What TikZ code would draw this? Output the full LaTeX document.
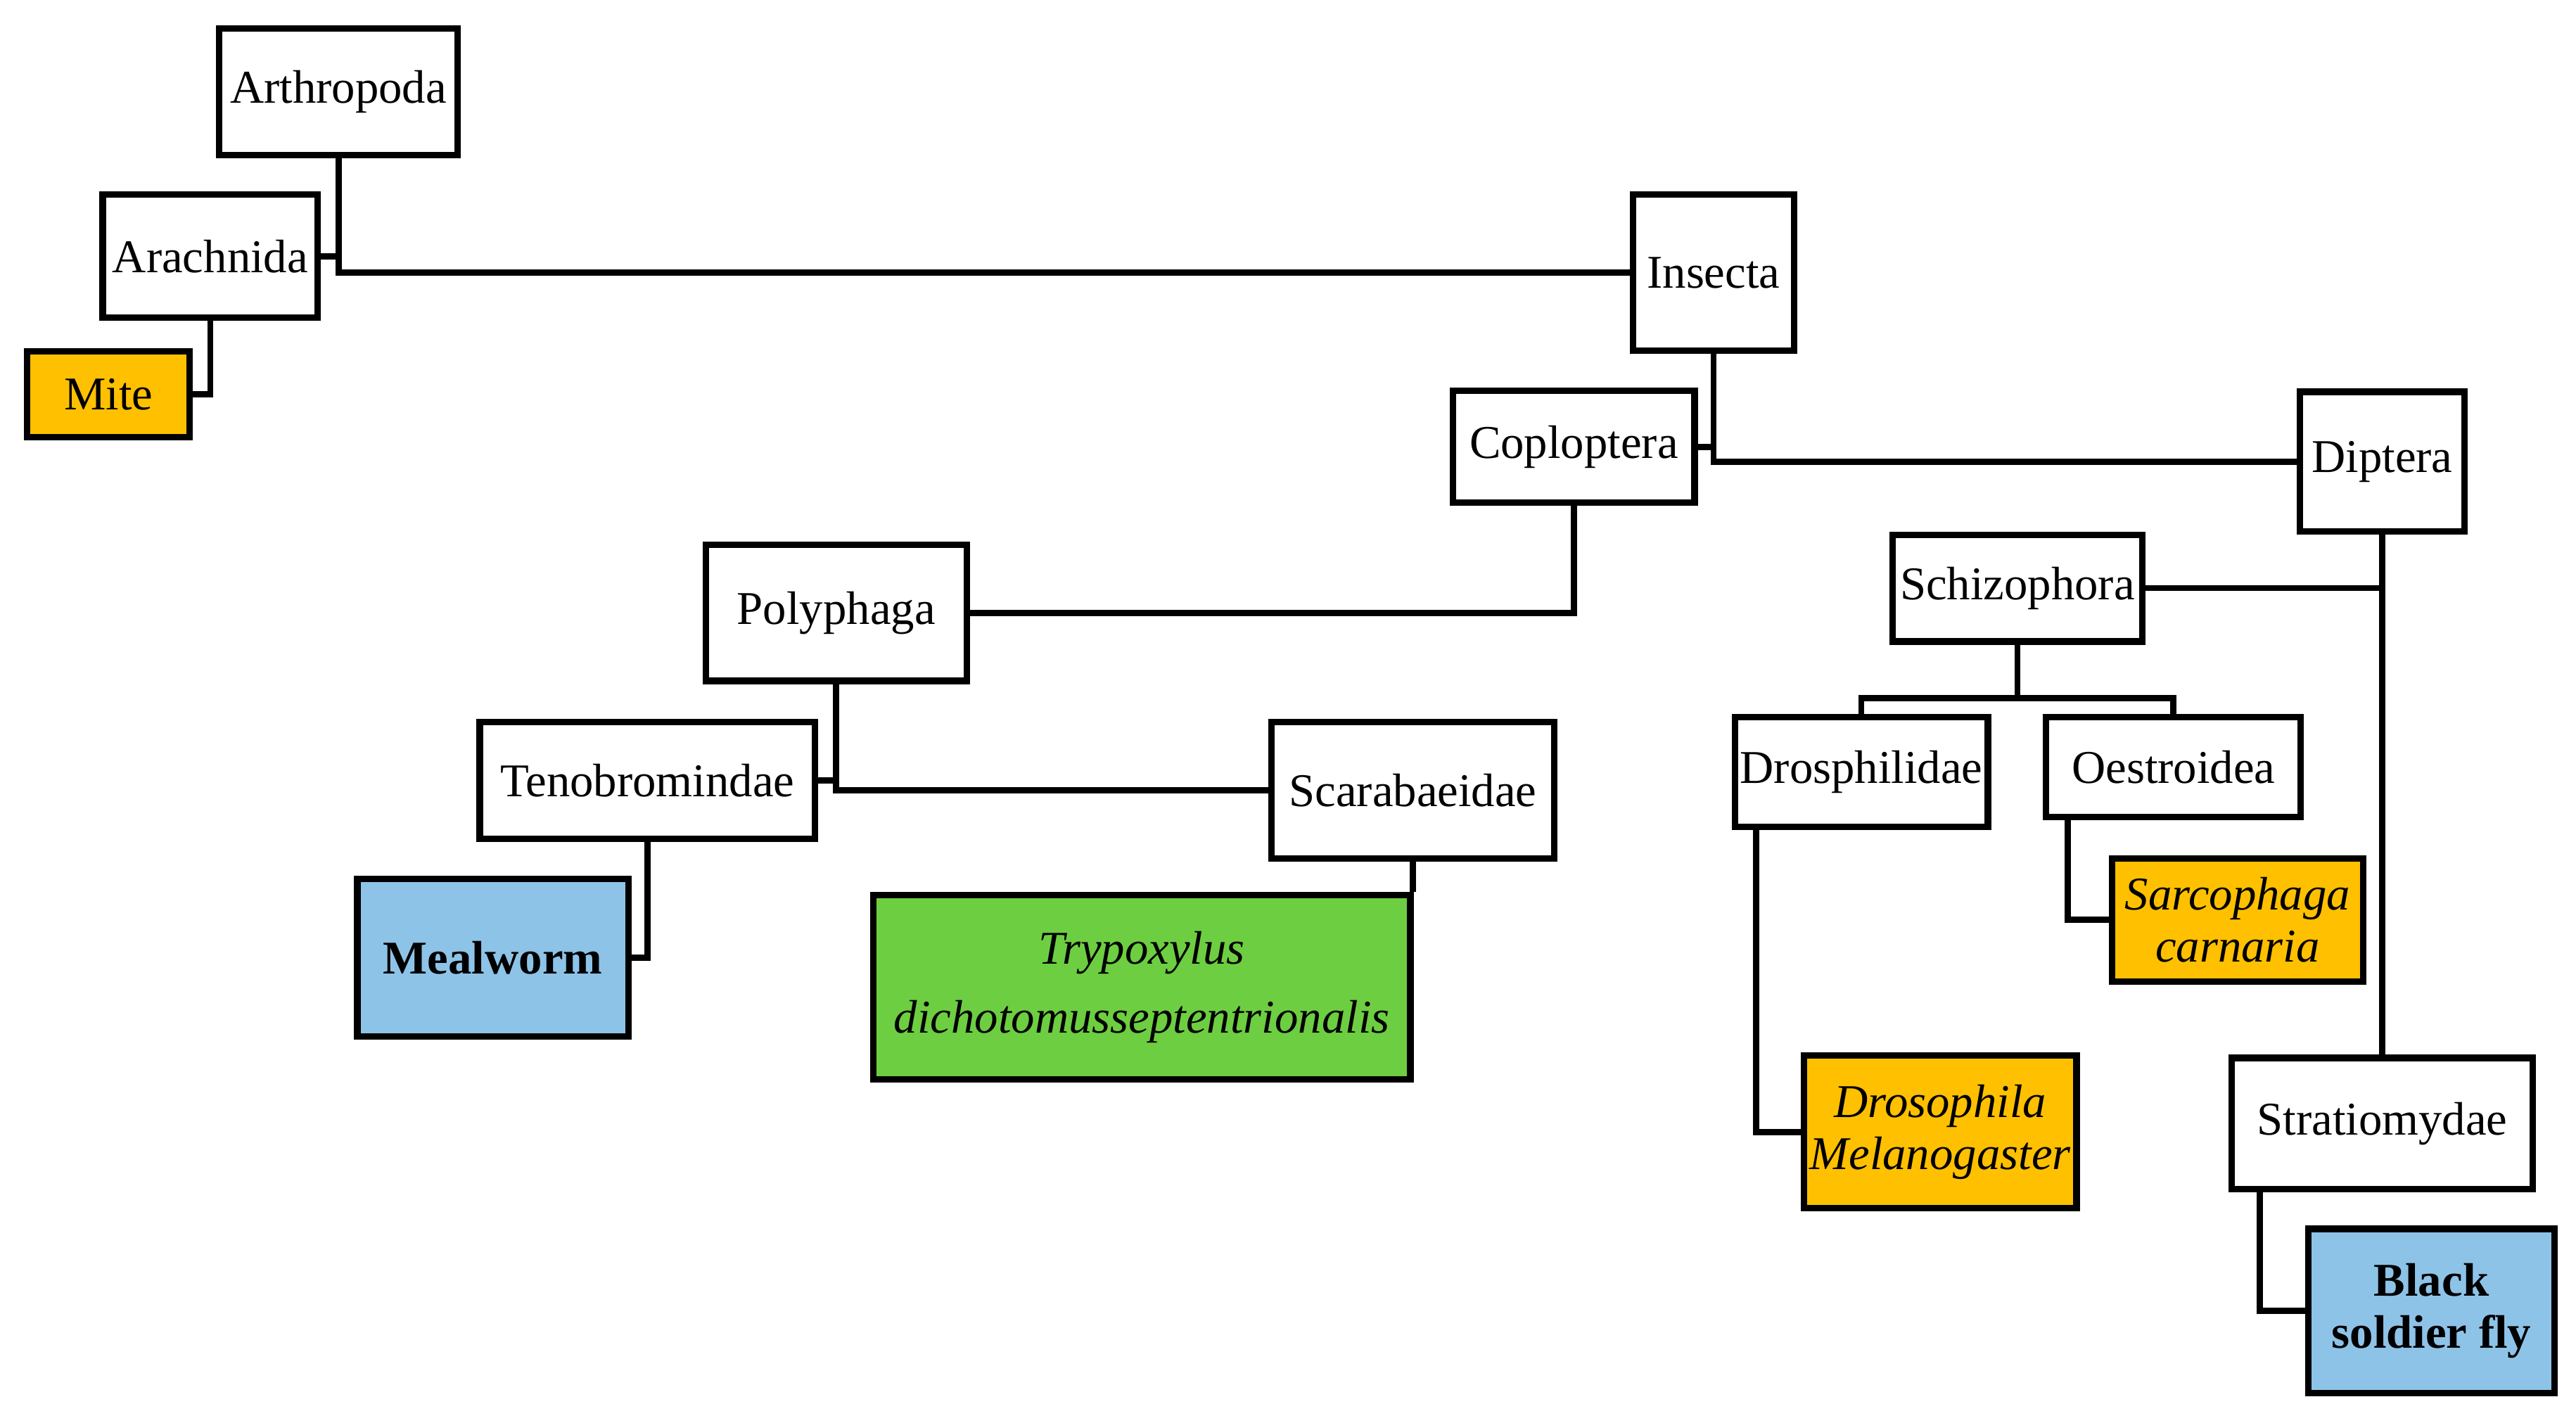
\documentclass[tikz,border=0pt]{standalone}
\usepackage{fontspec}
\setmainfont{Liberation Serif}
\usetikzlibrary{calc}
\definecolor{orng}{RGB}{255,192,0}
\definecolor{lblue}{RGB}{142,195,232}
\definecolor{lgreen}{RGB}{109,206,65}
\newcommand\uu{0.023355cm}
\begin{document}
\begin{tikzpicture}[x=0.023355cm,y=-0.023355cm,
  box/.style={draw=black,line width=2.6pt,fill=white,inner sep=0pt,align=center,
    font=\fontsize{19}{21}\selectfont},
  orbox/.style={box,fill=orng,font=\fontsize{19}{21}\selectfont\itshape},
  bluebox/.style={box,fill=lblue,font=\fontsize{19}{21}\selectfont\bfseries},
  grbox/.style={box,fill=lgreen,font=\fontsize{19}{28}\selectfont\itshape},
  conn/.style={draw=black,line width=2.5pt}]
\useasboundingbox (0,0) rectangle (1568,866);
\fill[white] (0,0) rectangle (1568,866);

\node[box,minimum width=145*\uu,minimum height=77*\uu] (arth) at (206,56) {Arthropoda};
\node[box,minimum width=131*\uu,minimum height=75*\uu] (arach) at (128,156) {Arachnida};
\node[orbox,font=\fontsize{19}{21}\selectfont,minimum width=99*\uu,minimum height=52*\uu] (mite) at (66,240) {Mite};
\node[box,minimum width=98*\uu,minimum height=95*\uu] (ins) at (1043,166) {Insecta};
\node[box,minimum width=147*\uu,minimum height=68*\uu] (cop) at (958,272) {Coploptera};
\node[box,minimum width=100*\uu,minimum height=85*\uu] (dip) at (1450,281) {Diptera};
\node[box,minimum width=159*\uu,minimum height=83*\uu] (poly) at (509,373) {Polyphaga};
\node[box,minimum width=152*\uu,minimum height=65*\uu] (schiz) at (1228,358) {Schizophora};
\node[box,minimum width=204*\uu,minimum height=71*\uu] (teno) at (394,475) {Tenobromindae};
\node[box,minimum width=172*\uu,minimum height=83*\uu] (scar) at (860,481) {Scarabaeidae};
\node[box,minimum width=154*\uu,minimum height=67*\uu] (drosph) at (1133,470) {Drosphilidae};
\node[box,minimum width=155*\uu,minimum height=61*\uu] (oest) at (1323,467) {Oestroidea};
\node[bluebox,minimum width=165*\uu,minimum height=96*\uu] (meal) at (300,583) {Mealworm};
\node[grbox,minimum width=327*\uu,minimum height=112*\uu] (tryp) at (695,601) {Trypoxylus\\dichotomusseptentrionalis};
\node[orbox,minimum width=153*\uu,minimum height=75*\uu] (sarc) at (1362,560) {Sarcophaga\\carnaria};
\node[orbox,minimum width=166*\uu,minimum height=93*\uu] (droso) at (1181,689) {Drosophila\\Melanogaster};
\node[box,minimum width=183*\uu,minimum height=80*\uu] (strat) at (1450,684) {Stratiomydae};
\node[bluebox,minimum width=150*\uu,minimum height=100*\uu] (bsf) at (1480,798) {Black\\soldier fly};

\coordinate (sj) at (1228,425);

\draw[conn] (arth.south) |- (ins.west);
\draw[conn] (arach.east) -- (arach.east -| arth.south);
\draw[conn] (arach.south) |- (mite.east);
\draw[conn] (ins.south) |- (dip.west);
\draw[conn] (cop.east) -- (cop.east -| ins.south);
\draw[conn] (cop.south) |- (poly.east);
\draw[conn] (poly.south) |- (scar.west);
\draw[conn] (teno.east) -- (teno.east -| poly.south);
\draw[conn] (teno.south) |- (meal.east);
\draw[conn] (scar.south) -- (scar.south |- tryp.north);
\draw[conn] (dip.south) -- (strat.north);
\draw[conn] (schiz.east) -- (schiz.east -| dip.south);
\draw[conn] (schiz.south) -- (sj);
\draw[conn] (drosph.north) |- (sj) -| (oest.north);
\draw[conn] ($(drosph.south west)+(15,0)$) |- (droso.west);
\draw[conn] ($(oest.south west)+(15,0)$) |- (sarc.west);
\draw[conn] ($(strat.south west)+(19,0)$) |- (bsf.west);
\end{tikzpicture}
\end{document}
